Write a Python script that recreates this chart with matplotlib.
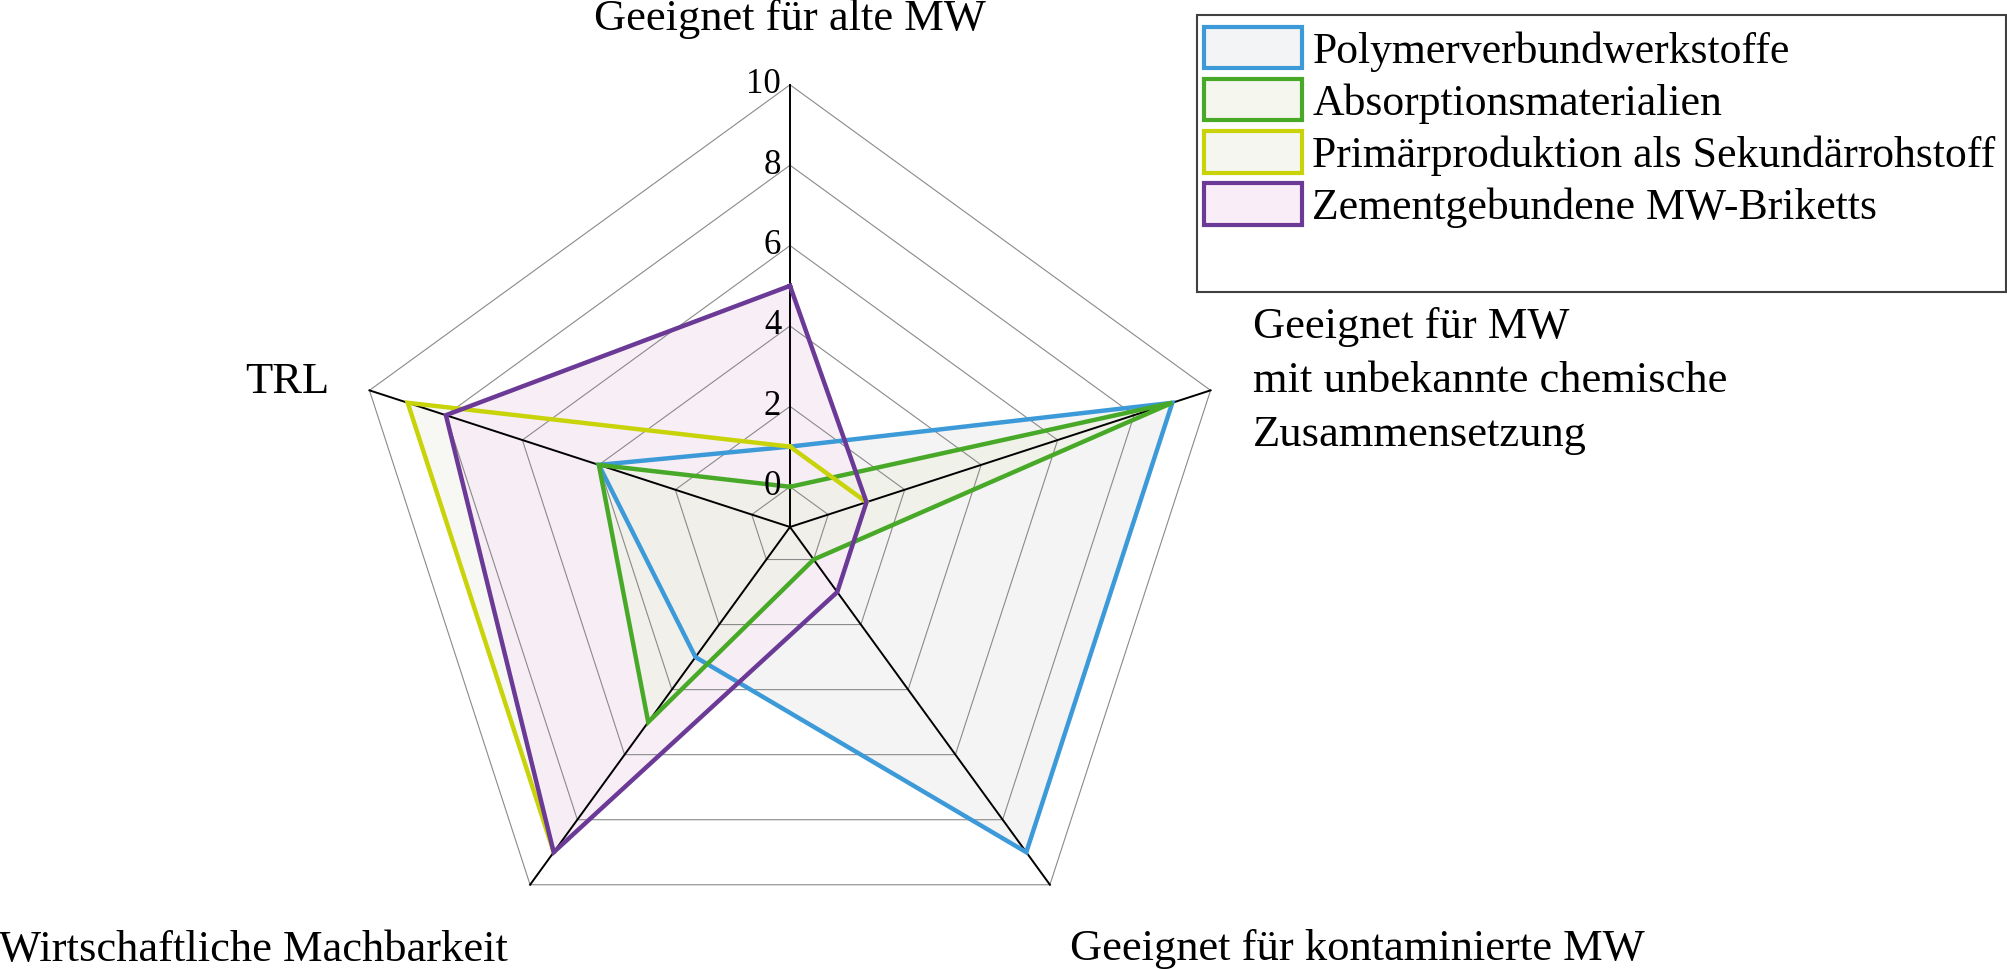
import numpy as np
import matplotlib
matplotlib.use("Agg")
import matplotlib.pyplot as plt
from matplotlib.patches import Patch, Rectangle

plt.rcParams['font.family'] = ['Liberation Serif', 'DejaVu Serif']

# ---------------- data ----------------
categories = ["Geeignet für alte MW",
              "Geeignet für MW\nmit unbekannte chemische\nZusammensetzung",
              "Geeignet für kontaminierte MW",
              "Wirtschaftliche Machbarkeit",
              "TRL"]
series_names = ["Polymerverbundwerkstoffe",
                "Absorptionsmaterialien",
                "Primärproduktion als Sekundärrohstoff",
                "Zementgebundene MW-Briketts"]
polymer = [1, 9, 9, 3, 4]
absorption = [0, 9, 0, 5, 4]
primaer = [1, 1, np.nan, 9, 9]
zement = [5, 1, 1, 9, 8]
ticks = [0, 2, 4, 6, 8, 10]
r_min, r_max = -1, 10

series_values = [polymer, absorption, primaer, zement]
line_colors = ["#3d9ad8", "#48a928", "#c9d30a", "#6b3a96"]


def fill_rgba(target, alpha):
    """colour that gives `target` (0-255) over white at the given alpha"""
    t = np.asarray(target, dtype=float)
    c = 255 - (255 - t) / alpha
    return tuple(np.clip(c, 0, 255) / 255) + (alpha,)


fill_specs = [fill_rgba((244, 245, 245), 0.6),
              fill_rgba((245, 247, 238), 0.6),
              fill_rgba((247, 248, 243), 1.0),
              fill_rgba((249, 239, 247), 0.9)]
fill_order = [2, 0, 3, 1]   # yellow, blue, purple, green

# ---------------- figure ----------------
W, H = 2008, 969
fig = plt.figure(figsize=(W / 100, H / 100), dpi=100)
ax = fig.add_axes([0, 0, 1, 1])
cx, cy, scale = 790, 527, 40.2
ax.set_xlim(-cx / scale, (W - cx) / scale)
ax.set_ylim(-(H - cy) / scale, cy / scale)
ax.axis('off')

n = len(categories)
angles = np.deg2rad(90 - 72 * np.arange(n))


def to_xy(vals):
    r = np.asarray(vals, dtype=float) - r_min
    return r * np.cos(angles), r * np.sin(angles)


# fills
for z, k in enumerate(fill_order):
    vals = np.asarray(series_values[k], dtype=float)
    filled = np.where(np.isnan(vals), r_min, vals)
    fx, fy = to_xy(filled)
    ax.fill(fx, fy, facecolor=fill_specs[k], edgecolor='none', zorder=1 + 0.1 * z)

# grid rings
for t in ticks:
    x, y = to_xy([t] * n)
    ax.plot(np.append(x, x[0]), np.append(y, y[0]), color="#8a8a8a", lw=0.8, zorder=2)

# spokes
xo, yo = to_xy([r_max] * n)
for i in range(n):
    ax.plot([0, xo[i]], [0, yo[i]], color="black", lw=1.4, zorder=3)

# tick labels
for t in ticks:
    ax.text(-0.22, t - r_min, str(t), ha='right', va='center', fontsize=25, zorder=6)

# series lines
for k, vals in enumerate(series_values):
    lx, ly = to_xy(vals)
    ax.plot(np.append(lx, lx[0]), np.append(ly, ly[0]), color=line_colors[k], lw=3.2,
            solid_joinstyle='miter', zorder=4 + k)

# axis labels (pixel positions: x, baseline y)
fs = 32
fig.text(790 / W, 1 - 30 / H, categories[0], ha='center', va='baseline', fontsize=fs)
for j, line in enumerate(categories[1].split("\n")):
    fig.text(1253 / W, 1 - (338 + 54 * j) / H, line, ha='left', va='baseline', fontsize=fs)
fig.text(1357 / W, 1 - 960 / H, categories[2], ha='center', va='baseline', fontsize=fs)
fig.text(253 / W, 1 - 961 / H, categories[3], ha='center', va='baseline', fontsize=fs)
fig.text(287 / W, 1 - 393 / H, categories[4], ha='center', va='baseline', fontsize=fs)

# legend frame
fig.patches.append(Rectangle((1197 / W, 1 - 292 / H), (2006 - 1197) / W, (292 - 15) / H,
                             transform=fig.transFigure, facecolor='none',
                             edgecolor='#404040', lw=1.5, zorder=10))
legend_fill = ["#f3f4f5", "#f5f7ee", "#f5f6ef", "#f9eef7"]
handles = [Patch(facecolor=legend_fill[k], edgecolor=line_colors[k], lw=3)
           for k in range(len(series_names))]
lfs = 31.5
fig.legend(handles, series_names, loc='upper left',
           bbox_to_anchor=(1204 / W, 1 - 27 / H), frameon=False, fontsize=lfs,
           handlelength=2.23, handleheight=1.08, handletextpad=0.25,
           labelspacing=0.17, borderpad=0, borderaxespad=0)

fig.savefig("out.png", dpi=100)
